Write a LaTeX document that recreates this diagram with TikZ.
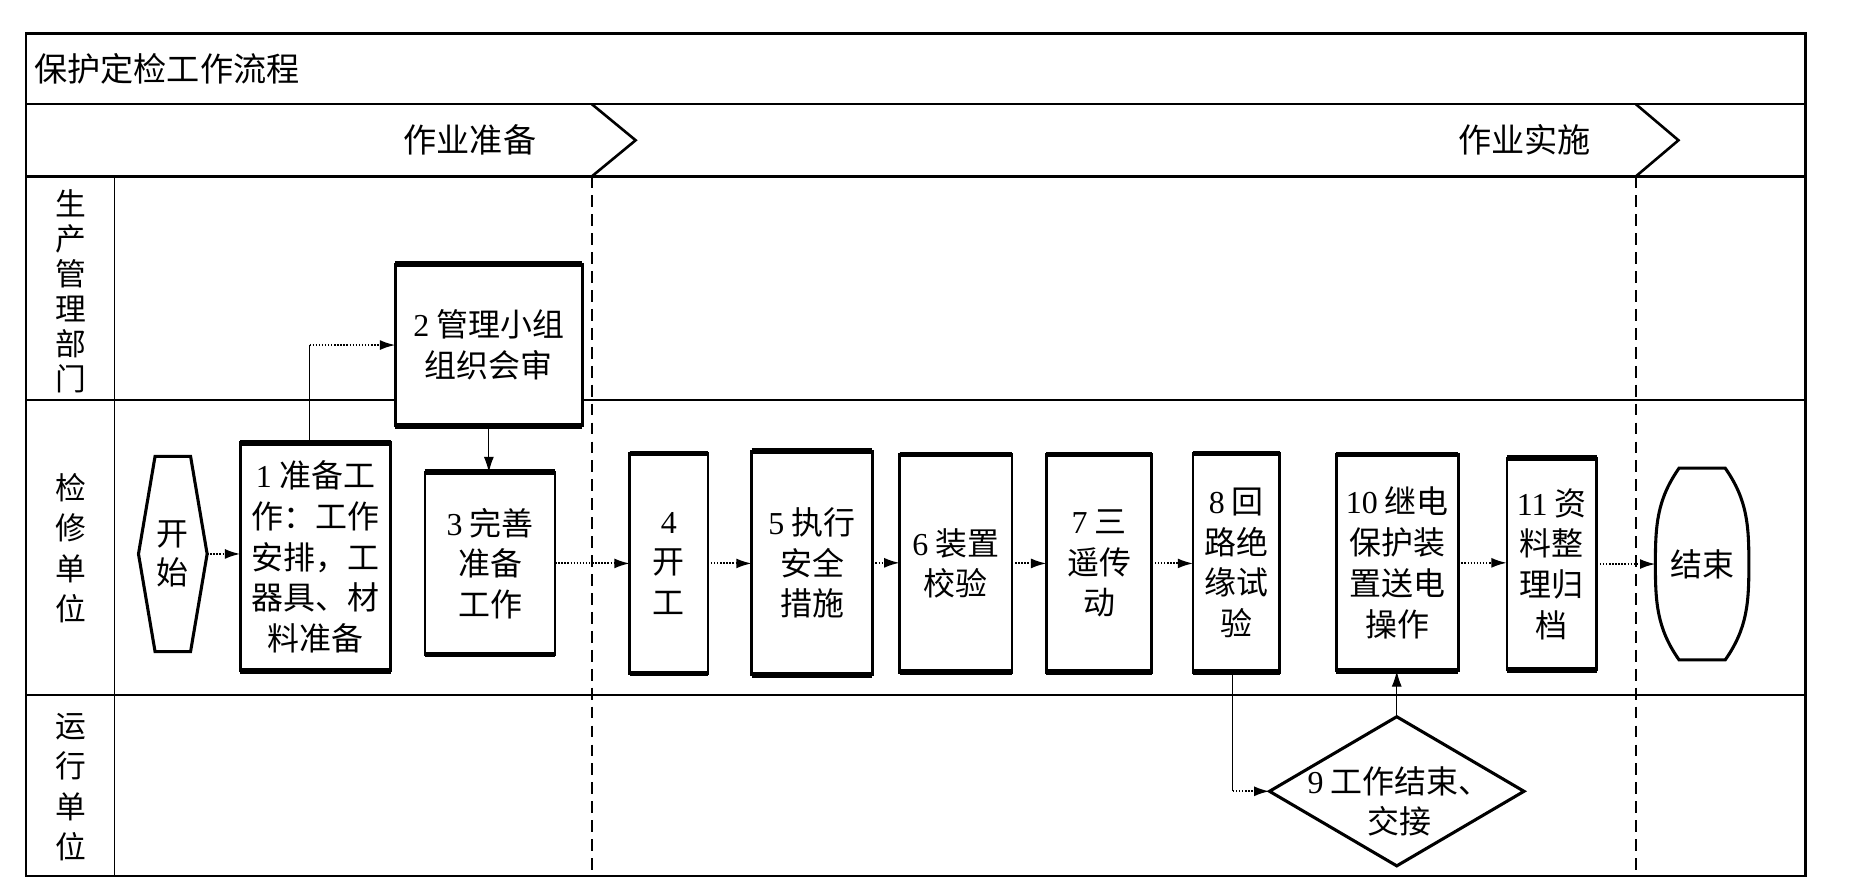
\documentclass[tikz,border=0pt]{standalone}
\usepackage{fontspec}
\setmainfont{Liberation Serif}
\newfontfamily\cjk{Noto Sans CJK SC}
\usetikzlibrary{arrows.meta,shapes.geometric,calc}
\newcommand\dgt[1]{{\rmfamily #1}}
\begin{document}
\begin{tikzpicture}[x=0.5pt,y=-0.5pt,
  every node/.style={inner sep=0pt, outer sep=0pt},
  frameline/.style={line width=1.2pt},
  rowline/.style={line width=1.1pt},
  colline/.style={line width=0.5pt},
  phasedash/.style={line width=0.6pt, dash pattern=on 5pt off 3pt},
  proc/.style={draw, line width=1.1pt, fill=white, align=center,
    font=\cjk\fontsize{13.5}{17.2}\selectfont},
  shapefont/.style={align=center, font=\cjk\fontsize{13.5}{16.5}\selectfont},
  lanetext/.style={align=center, font=\cjk\fontsize{13}{#1}\selectfont},
  headtext/.style={font=\cjk\fontsize{14}{16}\selectfont},
  flow/.style={line width=0.8pt, dash pattern=on 0.6pt off 0.7pt,
    -{Latex[length=6.5pt,width=4.2pt]}},
  plain/.style={line width=0.45pt},
  vflow/.style={line width=0.45pt, -{Latex[length=6.5pt,width=4.2pt]}},
  thickedge/.style={line width=2.4pt}
]
\useasboundingbox (0,0) rectangle (1568,755);

% frame and lanes
\draw[frameline] (22,28) rectangle (1525,740);
\draw[rowline] (22,88) -- (1525,88);
\draw[rowline] (22,149) -- (1525,149);
\draw[rowline] (22,338) -- (1525,338);
\draw[rowline] (22,587) -- (1525,587);
\draw[colline] (97,149) -- (97,740);

% phase chevrons and dashed separators
\draw[rowline] (500,88) -- (537,118.5) -- (500,149);
\draw[rowline] (1382,88) -- (1418,118.5) -- (1382,149);
\draw[phasedash] (500,149) -- (500,740);
\draw[phasedash] (1382,149) -- (1382,740);

% header texts
\node[headtext, anchor=west] (title) at (29,58) {保护定检工作流程};
\node[headtext] (ph1) at (397,118) {作业准备};
\node[headtext] (ph2) at (1288,118) {作业实施};

% lane labels
\node[lanetext=14.8] (lane1) at (59.5,246) {生\\产\\管\\理\\部\\门};
\node[lanetext=17] (lane2) at (59.5,463) {检\\修\\单\\位};
\node[lanetext=17] (lane3) at (59.5,665) {运\\行\\单\\位};

% start hexagon
\node[shapefont, minimum width=29pt, minimum height=82.5pt] (start) at (146,468) {开\\始};
\draw[line width=1.3pt] ([xshift=7pt]start.north west) -- ([xshift=-7pt]start.north east)
  -- (start.east) -- ([xshift=-7pt]start.south east) -- ([xshift=7pt]start.south west)
  -- (start.west) -- cycle;

% process boxes
\node[proc, minimum width=63.5pt, minimum height=96.5pt] (b1) at (266.5,470.5)
  {\dgt{1} 准备工\\作：工作\\安排，工\\器具、材\\料准备};
\node[proc, minimum width=79pt, minimum height=68.5pt] (b2) at (413,291.5)
  {\dgt{2} 管理小组\\组织会审};
\node[proc, minimum width=55pt, minimum height=77pt] (b3) at (414,476)
  {\dgt{3} 完善\\准备\\工作};
\node[proc, minimum width=33pt, minimum height=93pt] (b4) at (565,476)
  {\dgt{4}\\开\\工};
\node[proc, minimum width=51pt, minimum height=94.5pt] (b5) at (686,475.5)
  {\dgt{5} 执行\\安全\\措施};
\node[proc, minimum width=47.5pt, minimum height=92pt] (b6) at (807.5,476)
  {\dgt{6} 装置\\校验};
\node[proc, minimum width=44.5pt, minimum height=92pt] (b7) at (928.5,476)
  {\dgt{7} 三\\遥传\\动};
\node[proc, minimum width=36.5pt, minimum height=92.5pt] (b8) at (1044.5,475.5)
  {\dgt{8} 回\\路绝\\缘试\\验};
\node[proc, minimum width=51.5pt, minimum height=91.5pt] (b10) at (1180.5,475.5)
  {\dgt{10} 继电\\保护装\\置送电\\操作};
\node[proc, minimum width=38pt, minimum height=89.5pt] (b11) at (1311,476.5)
  {\dgt{11} 资\\料整\\理归\\档};
\foreach \n in {b1,b2,b3,b4,b5,b6,b7,b8,b10,b11}{
  \draw[thickedge] (\n.north west) -- (\n.north east) (\n.south west) -- (\n.south east);
}

% end shape
\node[shapefont, minimum width=39.5pt, minimum height=81pt] (end) at (1438,476.5) {结束};
\draw[line width=1.3pt] ([xshift=10pt]end.north west) -- ([xshift=-10pt]end.north east)
  to[out=-55,in=90] (end.east) to[out=-90,in=55] ([xshift=-10pt]end.south east)
  -- ([xshift=10pt]end.south west) to[out=125,in=-90] (end.west)
  to[out=90,in=235] cycle;

% decision diamond
\node[draw, diamond, line width=1.3pt, fill=white, minimum width=107.5pt, minimum height=63pt] (d9) at (1180,668.5) {};
\node[shapefont] (d9text) at (1182,677) {\dgt{9} 工作结束、\\交接};

% connectors
\draw[flow] (start.east) -- (start.east -| b1.west);
\draw[plain] ([xshift=-2.5pt]b1.north) -- ([xshift=-2.5pt]b1.north |- b2.west);
\draw[flow] ([xshift=-2.5pt]b1.north |- b2.west) -- (b2.west);
\draw[vflow] (b2.south) -- (b2.south |- b3.north);
\draw[flow] (b3.east) -- (b3.east -| b4.west);
\draw[flow] (b4.east) -- (b4.east -| b5.west);
\draw[flow] (b5.east) -- (b5.east -| b6.west);
\draw[flow] (b6.east) -- (b6.east -| b7.west);
\draw[flow] (b7.east) -- (b7.east -| b8.west);
\draw[plain] ([xshift=-1.5pt]b8.south) -- ([xshift=-1.5pt]b8.south |- d9.west);
\draw[flow] ([xshift=-1.5pt]b8.south |- d9.west) -- (d9.west);
\draw[vflow] (d9.north) -- (d9.north |- b10.south);
\draw[flow] (b10.east) -- (b10.east -| b11.west);
\draw[flow] (b11.east) -- (b11.east -| end.west);
\end{tikzpicture}
\end{document}
